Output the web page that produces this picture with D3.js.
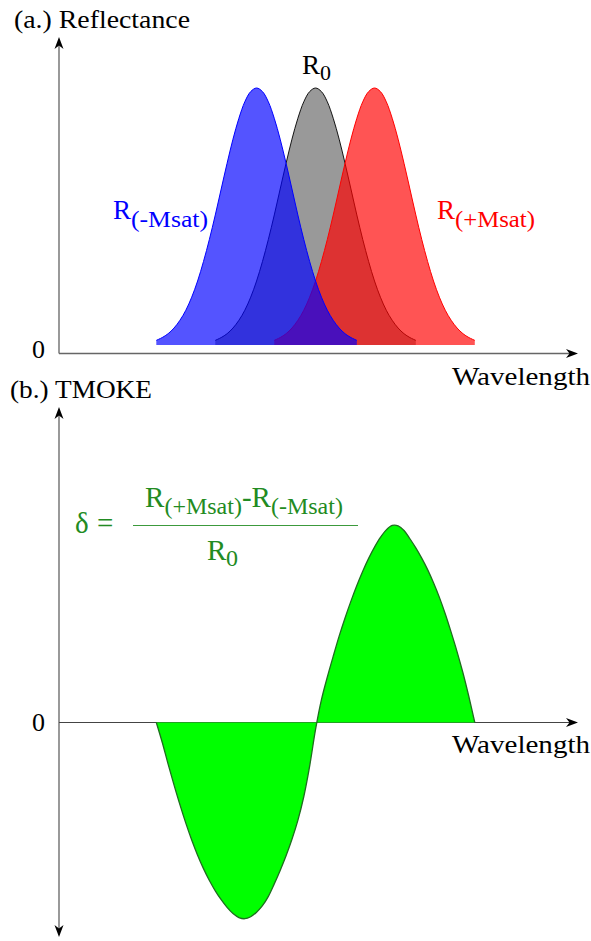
<!DOCTYPE html>
<html><head><meta charset="utf-8">
<script src="https://cdn.jsdelivr.net/npm/d3@7"></script>
<style>html,body{margin:0;padding:0;background:#fff;} svg{display:block;}</style>
</head><body>
<svg id="chart" width="591" height="941"></svg>
<script>
// ---------------- data ----------------
const wavelength = [23,24,25,26,27,28,29,30,31,32,33,34,35,36,37,38,39,40,41,42,43,44,45,46,47,48,49,50,
  51,52,53,54,55,56,57,58,59,60,61,62,63,64,65,66,67,68,69,70,71,72,73,74,75,76,77];
const rMinus = [0.018,0.029,0.044,0.066,0.096,0.135,0.186,0.249,0.325,0.411,0.506,0.607,0.707,0.801,0.882,0.946,0.986,1.000,
  0.986,0.946,0.882,0.801,0.707,0.607,0.506,0.411,0.325,0.249,0.186,0.135,0.096,0.066,0.044,0.029,0.018,
  null,null,null,null,null,null,null,null,null,null,null,null,null,null,null,null,null,null,null,null];
const r0 = [null,null,null,null,null,null,null,null,null,null,
  0.018,0.029,0.044,0.066,0.096,0.135,0.186,0.249,0.325,0.411,0.506,0.607,0.707,0.801,0.882,0.946,0.986,1.000,
  0.986,0.946,0.882,0.801,0.707,0.607,0.506,0.411,0.325,0.249,0.186,0.135,0.096,0.066,0.044,0.029,0.018,
  null,null,null,null,null,null,null,null,null,null];
const rPlus = [null,null,null,null,null,null,null,null,null,null,null,null,null,null,null,null,null,null,null,null,
  0.018,0.029,0.044,0.066,0.096,0.135,0.186,0.249,0.325,0.411,0.506,0.607,0.707,0.801,0.882,0.946,0.986,1.000,
  0.986,0.946,0.882,0.801,0.707,0.607,0.506,0.411,0.325,0.249,0.186,0.135,0.096,0.066,0.044,0.029,0.018];
const tmoke = [0,-0.100,-0.210,-0.315,-0.415,-0.508,-0.593,-0.670,-0.738,-0.798,-0.850,-0.895,-0.934,-0.965,-0.985,-0.991,
  -0.981,-0.958,-0.925,-0.878,-0.815,-0.747,-0.673,-0.590,-0.494,-0.375,-0.220,-0.035,
  0.115,0.230,0.335,0.436,0.528,0.613,0.692,0.764,0.829,0.886,0.935,0.973,0.995,0.993,0.970,0.928,0.882,0.830,
  0.772,0.706,0.632,0.548,0.455,0.357,0.250,0.130,0];
const panelTitles = ["(a.) Reflectance", "(b.) TMOKE"];
const xAxisLabel = "Wavelength";
const zeroLabel = "0";

// ---------------- chart ----------------
const svg = d3.select("#chart");
const FONT = "'Liberation Serif', 'Times New Roman', serif";

const x = d3.scaleLinear().domain([6.5, 94.5]).range([59, 578]);
const yTop = d3.scaleLinear().domain([0, 1]).range([345, 88]);
const yBot = d3.scaleLinear().domain([0, 1]).range([722.5, 524.5]);

const topAxisY = yTop(0) + 8.5;
const axisX = x(6.5);

function arrow(tx, ty, dir) {
  const L = 12, W = 4.5, N = 8.5;
  const p = d3.path();
  if (dir === 'up') { p.moveTo(tx,ty); p.lineTo(tx-W,ty+L); p.lineTo(tx,ty+N); p.lineTo(tx+W,ty+L); }
  if (dir === 'down') { p.moveTo(tx,ty); p.lineTo(tx-W,ty-L); p.lineTo(tx,ty-N); p.lineTo(tx+W,ty-L); }
  if (dir === 'right') { p.moveTo(tx,ty); p.lineTo(tx-L,ty-W); p.lineTo(tx-N,ty); p.lineTo(tx-L,ty+W); }
  p.closePath();
  return p.toString();
}

// axes (drawn first)
const axG = svg.append("g");
axG.append("line").attr("x1", axisX).attr("x2", axisX).attr("y1", topAxisY).attr("y2", 42)
  .attr("stroke", "#808080").attr("stroke-width", 1.6);
axG.append("path").attr("d", arrow(axisX, 37, 'up')).attr("fill", "#000");
axG.append("line").attr("x1", axisX).attr("x2", x(94.5) - 5).attr("y1", topAxisY).attr("y2", topAxisY)
  .attr("stroke", "#666").attr("stroke-width", 1.3);
axG.append("path").attr("d", arrow(x(94.5), topAxisY, 'right')).attr("fill", "#000");
axG.append("line").attr("x1", axisX).attr("x2", axisX).attr("y1", 412).attr("y2", 932)
  .attr("stroke", "#808080").attr("stroke-width", 1.6);
axG.append("path").attr("d", arrow(axisX, 407, 'up')).attr("fill", "#000");
axG.append("path").attr("d", arrow(axisX, 937, 'down')).attr("fill", "#000");
axG.append("line").attr("x1", axisX).attr("x2", x(94.5) - 5).attr("y1", yBot(0)).attr("y2", yBot(0))
  .attr("stroke", "#444").attr("stroke-width", 1.2);
axG.append("path").attr("d", arrow(x(94.5), yBot(0), 'right')).attr("fill", "#000");

// reflectance curves
function series(vals) { return wavelength.map((w, i) => ({ w, v: vals[i] })); }
const curve = d3.curveCatmullRom.alpha(0.5);
const areaTop = d3.area().defined(d => d.v != null).x(d => x(d.w)).y0(yTop(0)).y1(d => yTop(d.v)).curve(curve);
const lineTop = d3.line().defined(d => d.v != null).x(d => x(d.w)).y(d => yTop(d.v)).curve(curve);

const refl = [
  { vals: r0, fill: "rgba(0,0,0,0.4)", stroke: "#000", sw: 0.9 },
  { vals: rPlus, fill: "rgba(255,0,0,0.67)", stroke: "#ff0000", sw: 1 },
  { vals: rMinus, fill: "rgba(0,0,255,0.67)", stroke: "#0000ff", sw: 1 }
];
const rg = svg.append("g");
refl.forEach(s => {
  const data = series(s.vals);
  rg.append("path").attr("d", areaTop(data)).attr("fill", s.fill);
  rg.append("path").attr("d", lineTop(data)).attr("fill", "none").attr("stroke", s.stroke).attr("stroke-width", s.sw);
});

// TMOKE curve
const tData = series(tmoke);
const areaBot = d3.area().x(d => x(d.w)).y0(yBot(0)).y1(d => yBot(d.v)).curve(curve);
const lineBot = d3.line().x(d => x(d.w)).y(d => yBot(d.v)).curve(curve);
svg.append("path").attr("d", areaBot(tData)).attr("fill", "#00ff00");
svg.append("path").attr("d", lineBot(tData)).attr("fill", "none").attr("stroke", "#1e6e1e").attr("stroke-width", 1.3);

// ---------------- text ----------------
function txt(str, xx, yy, size, color, tl) {
  const t = svg.append("text").attr("x", xx).attr("y", yy).attr("font-family", FONT)
    .attr("font-size", size).attr("fill", color).text(str);
  if (tl) t.attr("textLength", tl).attr("lengthAdjust", "spacingAndGlyphs");
  return t;
}
txt(panelTitles[0], 14, 28, 26, "#000", 176);
txt(panelTitles[1], 10, 398, 26, "#000", 142);
txt(zeroLabel, 32, 358, 26, "#000");
txt(zeroLabel, 32, 731, 26, "#000");
txt(xAxisLabel, 452, 385, 26, "#000", 138);
txt(xAxisLabel, 452, 753, 26, "#000", 138);

// curve labels
txt("R", 302, 74, 27, "#000");
txt("0", 320, 80, 22, "#000");
txt("R", 113, 219, 27, "#0000ff");
txt("(-Msat)", 131, 227, 23, "#0000ff", 77);
txt("R", 437, 219, 27, "#ff0000");
txt("(+Msat)", 455, 227, 23, "#ff0000", 80);

// formula
const GREEN = "#228b22";
txt("δ", 75, 533, 29, GREEN);
txt("=", 97, 533, 29, GREEN);
const num = svg.append("text").attr("x", 244).attr("y", 507).attr("text-anchor", "middle")
  .attr("font-family", FONT).attr("fill", GREEN).attr("font-size", 29);
num.append("tspan").text("R");
num.append("tspan").attr("font-size", 24).attr("dy", 7).text("(+Msat)");
num.append("tspan").attr("dy", -7).text("-R");
num.append("tspan").attr("font-size", 24).attr("dy", 7).text("(-Msat)");
svg.append("line").attr("x1", 133).attr("x2", 358).attr("y1", 525.5).attr("y2", 525.5)
  .attr("stroke", "#3c9a3c").attr("stroke-width", 1.2);
txt("R", 207, 560, 29, GREEN);
txt("0", 226, 566, 24, GREEN);
</script>
</body></html>
